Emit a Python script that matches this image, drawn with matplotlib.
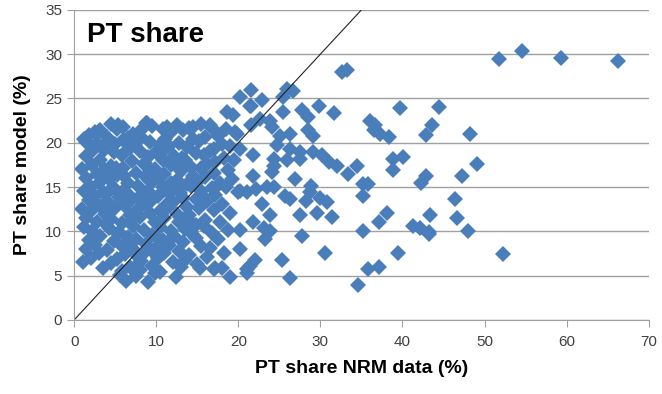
import matplotlib
matplotlib.use("Agg")
import matplotlib.pyplot as plt

# Outlying / mid-range points (x = NRM data %, y = model %)
x_mid = [51.8, 54.6, 59.3, 66.2, 44.4, 43.6, 42.9, 48.2, 49.1, 42.9, 42.3, 47.3, 46.4,
         43.4, 46.6, 42.1, 43.2, 48.0, 52.2,
         32.6, 33.3, 21.6, 25.9, 26.7, 25.5, 22.9, 21.6, 29.8, 25.5, 27.7, 28.5, 31.7,
         39.7, 22.7, 23.9, 24.1, 36.1, 36.7, 37.3, 38.3, 36.5, 25.1, 26.3, 28.5, 29.1,
         20.2, 24.7, 26.3, 27.5, 29.1, 21.8, 24.3, 25.9, 27.5, 30.2, 31.0, 32.0, 33.4,
         34.4, 38.9, 40.1, 38.9, 24.3, 24.1, 21.8, 20.2, 21.0, 22.2, 23.5, 24.3, 26.9,
         28.9, 28.7, 30.0, 30.8, 25.7, 26.3, 28.3, 35.2, 35.8, 35.2, 22.9, 23.9, 27.5,
         29.6, 31.4, 38.1, 37.1, 41.3, 43.2, 20.2, 21.8, 23.1, 23.3, 23.9, 27.7, 35.2,
         30.6, 39.5, 20.2, 22.0, 21.4, 21.0, 25.3, 26.3, 35.8, 37.1, 34.6,
         20.2, 21.4, 18.6, 19.4, 19.6, 21.6, 21.1]
y_mid = [29.5, 30.3, 29.6, 29.2, 24.0, 22.0, 20.9, 21.0, 17.6, 16.3, 15.5, 16.3, 13.7,
         11.9, 11.5, 10.4, 9.7, 10.0, 7.4,
         28.0, 28.2, 25.9, 26.1, 25.8, 25.2, 24.8, 24.1, 24.2, 23.5, 23.7, 22.9, 23.4,
         23.9, 22.7, 22.5, 21.8, 22.5, 22.0, 21.0, 20.6, 21.4, 20.8, 21.0, 21.4, 20.8,
         19.3, 19.7, 19.3, 19.0, 19.0, 18.6, 18.2, 18.0, 18.2, 18.6, 17.8, 17.4, 16.5,
         17.4, 18.2, 18.4, 16.9, 17.4, 16.7, 16.3, 14.6, 14.4, 14.8, 15.0, 15.0, 15.9,
         15.1, 14.4, 13.8, 13.3, 14.0, 13.6, 13.4, 15.3, 15.3, 14.0, 13.1, 11.9, 11.9,
         12.1, 11.6, 12.1, 11.0, 10.6, 9.9, 10.2, 11.0, 10.4, 9.1, 10.0, 9.5, 10.0,
         7.6, 7.6, 8.0, 6.8, 6.1, 5.3, 6.8, 4.7, 5.7, 6.0, 3.9,
         25.2, 24.1, 23.5, 23.1, 21.2, 22.0, 5.7]

# Dense cluster (x 0-20 %)
x_low = [4.5, 6.0, 8.8, 9.5, 12.5, 14.0, 15.5, 3.2, 5.4, 8.9, 11.3, 14.5, 16.6,
         3.0, 5.2, 10.8, 13.3, 16.8, 18.5,
         1.8, 2.5, 7.2, 11.7, 17.5, 19.8,
         1.2, 4.0, 6.5, 8.2, 14.5, 16.0, 1.5,
         2.8, 5.0, 9.2, 10.5, 12.8, 15.2, 18.0,
         3.5, 6.8, 11.5, 13.8, 17.0, 19.0,
         2.0, 4.8, 8.0, 10.0, 14.8, 16.5,
         1.5, 5.8, 9.0, 12.2, 15.8, 18.2,
         3.2, 7.0, 10.8, 13.5, 17.2, 19.5,
         2.2, 4.5, 8.5, 11.8, 14.2, 16.2,
         1.0, 3.8, 6.0, 9.8, 13.0, 15.5, 18.8,
         2.8, 5.2, 7.5, 11.0, 14.5, 17.0,
         1.5, 4.2, 8.8, 10.2, 12.5, 16.0, 19.2,
         3.0, 6.5, 9.5, 11.8, 13.8, 15.0, 17.8,
         2.0, 4.8, 7.8, 10.8, 12.8, 14.2, 16.8, 18.5,
         1.2, 3.5, 6.0, 9.0, 11.5, 15.5, 20.0,
         2.5, 5.5, 8.2, 10.2, 13.2, 17.2,
         1.8, 4.0, 7.0, 9.5, 12.0, 14.8, 16.2,
         3.0, 6.2, 8.8, 11.2, 13.8, 18.0,
         1.0, 2.2, 5.0, 7.8, 10.5, 15.2, 17.0,
         3.8, 6.8, 9.2, 12.5, 14.0, 19.0,
         1.5, 4.5, 8.0, 11.0, 16.0,
         2.8, 5.8, 9.8, 12.8, 14.5, 17.8,
         1.2, 4.2, 7.2, 10.5, 13.5, 15.8,
         2.2, 5.5, 8.5, 11.8, 16.8, 18.8,
         3.2, 6.5, 9.5, 12.2, 14.8,
         1.8, 4.8, 7.5, 10.8, 13.2, 17.5,
         2.5, 5.8, 8.8, 11.5, 15.5,
         1.5, 4.0, 7.0, 9.8, 12.8, 16.5,
         3.0, 6.2, 8.5, 11.0, 14.0, 18.2,
         2.0, 5.2, 7.8, 10.2, 13.5, 16.2,
         1.1, 4.5, 8.2, 12.0, 15.0,
         3.5, 6.8, 9.5, 13.0, 17.0, 18.0,
         5.8, 8.0, 10.5, 15.3, 17.1,
         5.6, 7.5, 9.9, 12.4,
         6.3, 9.0, 19.0,
         # extra fill
         3.6, 7.4, 10.6, 13.1, 6.1, 9.3, 12.1, 2.6, 7.9, 11.4, 4.1, 13.7,
         5.1, 8.6, 12.6, 3.9, 6.9, 10.1, 14.4, 7.1, 9.6, 5.9, 11.1, 8.1,
         4.4, 6.6, 12.9, 15.9, 3.4, 9.1, 17.6, 5.3, 10.9, 14.9, 7.6]
y_low = [22.1, 21.8, 22.2, 21.9, 22.0, 21.7, 22.1, 21.4, 22.0, 22.2, 21.8, 21.8, 22.0,
         21.3, 21.6, 21.5, 21.4, 21.7, 21.5,
         20.9, 21.2, 21.0, 21.1, 20.8, 21.0,
         20.4, 20.6, 20.5, 20.7, 20.4, 20.6, 20.1,
         20.0, 19.9, 20.1, 19.8, 20.0, 20.2, 19.9,
         19.5, 19.4, 19.6, 19.5, 19.3, 19.6,
         19.0, 18.9, 19.1, 19.0, 18.8, 19.1,
         18.5, 18.6, 18.4, 18.5, 18.6, 18.3,
         18.0, 17.9, 18.1, 18.0, 17.8, 18.1,
         17.5, 17.4, 17.6, 17.5, 17.3, 17.6,
         17.0, 16.9, 17.1, 17.0, 16.8, 17.1, 16.9,
         16.5, 16.4, 16.6, 16.5, 16.3, 16.6,
         16.0, 15.9, 16.1, 16.0, 15.8, 16.1, 15.9,
         15.5, 15.4, 15.6, 15.5, 15.3, 15.6, 15.4,
         15.0, 14.9, 15.1, 15.0, 14.8, 15.1, 14.9, 15.0,
         14.5, 14.4, 14.6, 14.5, 14.3, 14.6, 14.4,
         14.0, 13.9, 14.1, 14.0, 13.8, 14.1,
         13.5, 13.4, 13.6, 13.5, 13.3, 13.6, 13.4,
         13.0, 12.9, 13.1, 13.0, 12.8, 13.1,
         12.5, 12.4, 12.6, 12.5, 12.3, 12.6, 12.4,
         12.0, 11.9, 12.1, 12.0, 11.8, 12.1,
         11.5, 11.4, 11.6, 11.5, 11.3,
         11.0, 10.9, 11.1, 11.0, 10.8, 11.1,
         10.5, 10.4, 10.6, 10.5, 10.3, 10.6,
         10.0, 9.9, 10.1, 10.0, 9.8, 10.1,
         9.5, 9.4, 9.6, 9.5, 9.3,
         9.0, 8.9, 9.1, 9.0, 8.8, 9.1,
         8.5, 8.4, 8.6, 8.5, 8.3,
         8.0, 7.9, 8.1, 8.0, 7.8, 8.1,
         7.5, 7.4, 7.6, 7.5, 7.3, 7.6,
         7.0, 6.9, 7.1, 7.0, 6.8, 7.1,
         6.5, 6.4, 6.6, 6.5, 6.3,
         5.9, 6.0, 6.1, 6.0, 5.8, 5.9,
         5.5, 5.6, 5.4, 5.9, 5.9,
         5.1, 5.0, 5.3, 4.8,
         4.4, 4.3, 4.8,
         # extra fill
         19.2, 19.7, 18.8, 18.3, 16.2, 16.8, 15.2, 13.2, 13.7, 12.7, 12.2, 11.7,
         17.2, 17.7, 17.3, 10.8, 11.2, 9.2, 9.7, 8.7, 7.7, 20.3, 20.4, 21.4,
         14.7, 14.2, 14.3, 13.8, 16.7, 15.8, 15.3, 9.7, 8.2, 10.7, 6.2]

x_ticks = [0, 10, 20, 30, 40, 50, 60, 70]
y_ticks = [0, 5, 10, 15, 20, 25, 30, 35]
title_text = "PT share"
x_label = "PT share NRM data (%)"
y_label = "PT share model (%)"

plt.rcParams['font.family'] = ['Liberation Sans', 'DejaVu Sans']

fig = plt.figure(figsize=(6.62, 3.94), dpi=100)
ax = fig.add_axes([0.112, 0.188, 0.868, 0.787])

blue = '#4A7EBB'
ax.plot(x_low + x_mid, y_low + y_mid, linestyle='none', marker='D', markersize=8.5,
        color=blue, markeredgewidth=0)
ax.plot([0, 35], [0, 35], color='#222222', linewidth=0.8)

ax.set_xlim(0, 70)
ax.set_ylim(0, 35)
ax.set_xticks(x_ticks)
ax.set_yticks(y_ticks)
ax.yaxis.grid(True, color='#a0a0a0', linewidth=1.0)
ax.set_axisbelow(True)
for s in ['top', 'right']:
    ax.spines[s].set_visible(False)
for s in ['left', 'bottom']:
    ax.spines[s].set_color('#a0a0a0')
ax.tick_params(axis='x', direction='out', length=5, color='#a0a0a0', labelsize=11,
               labelcolor='#404040', pad=6)
ax.tick_params(axis='y', direction='out', length=5, color='#a0a0a0', labelsize=11,
               labelcolor='#404040')

ax.text(0.022, 0.96, title_text, transform=ax.transAxes, fontsize=20, fontweight='bold',
        va='top', ha='left')
ax.set_xlabel(x_label, fontsize=14, fontweight='bold', labelpad=8)
ax.set_ylabel(y_label, fontsize=14, fontweight='bold', labelpad=10)

fig.savefig('out.png', dpi=100)
